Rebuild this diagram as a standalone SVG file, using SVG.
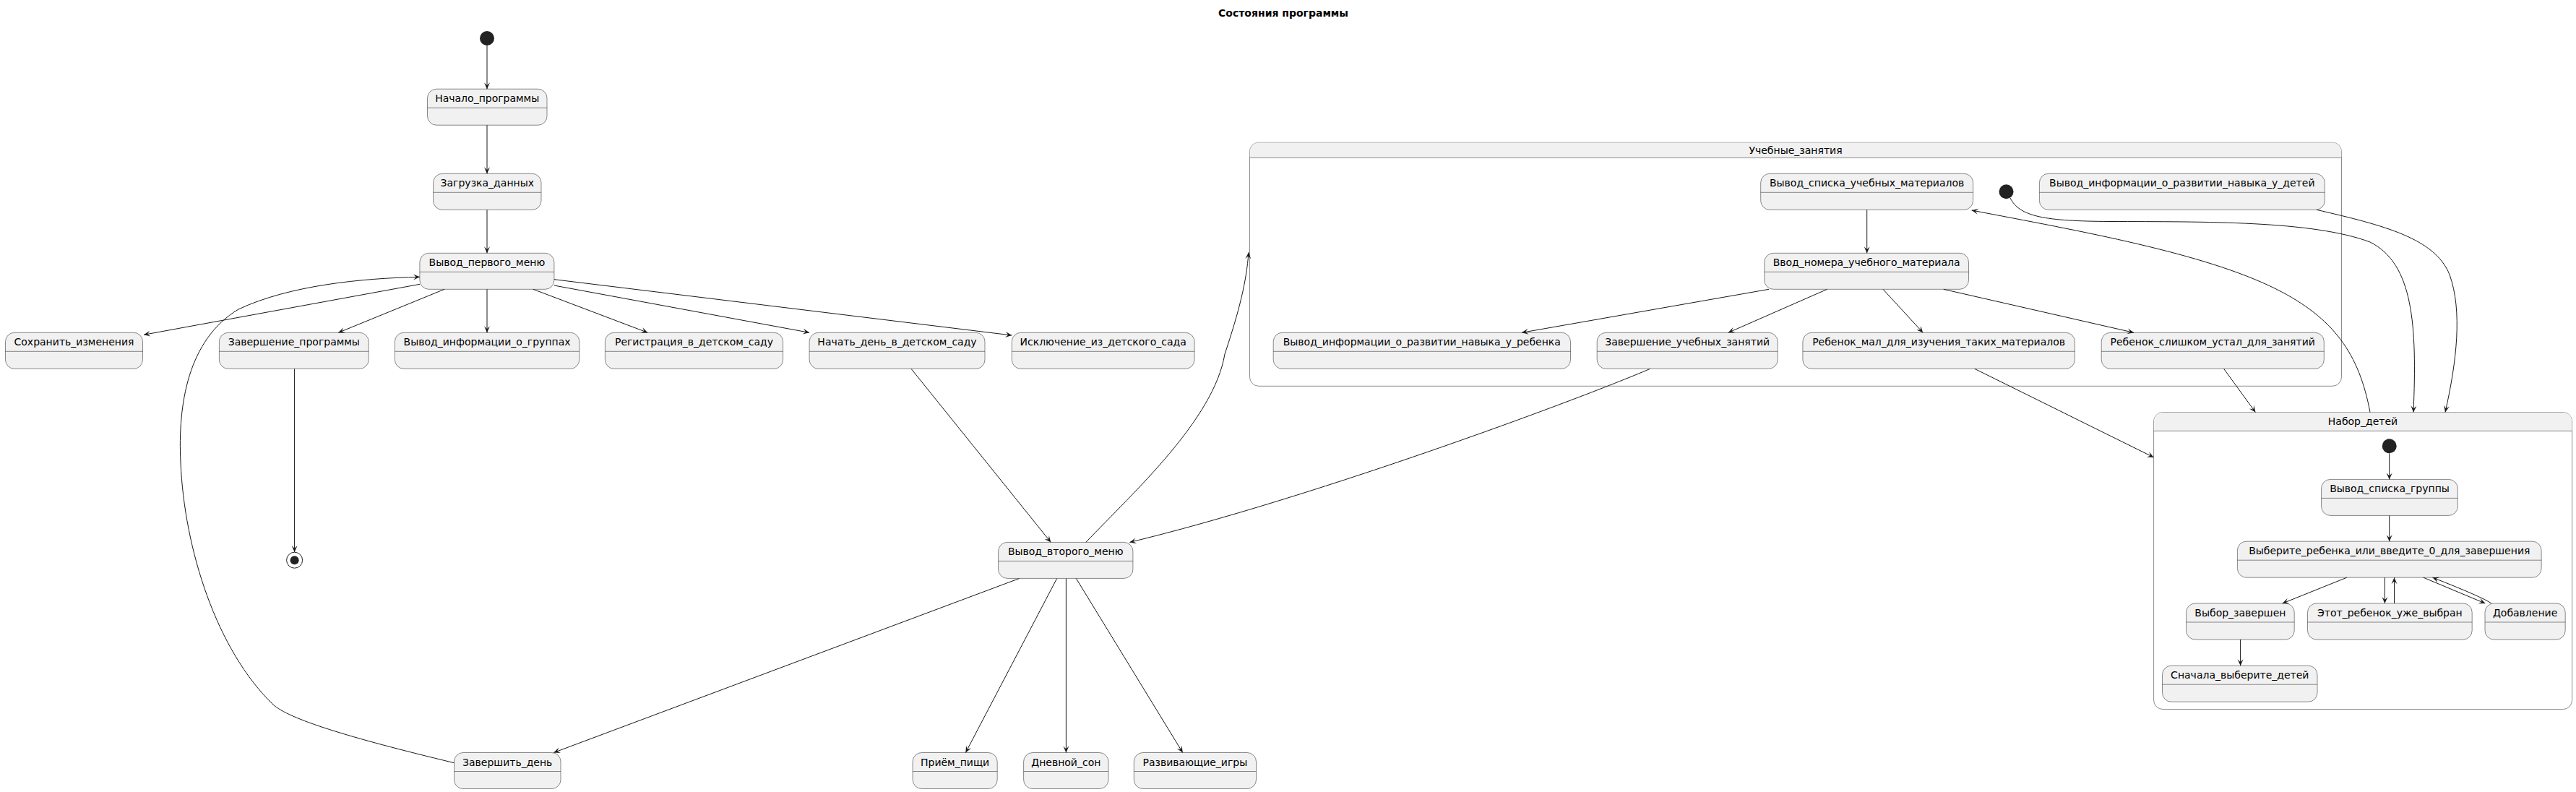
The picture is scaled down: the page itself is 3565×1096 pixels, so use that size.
<svg xmlns="http://www.w3.org/2000/svg" width="3565" height="1096" viewBox="0 0 3565 1096">
<style>
.s{fill:#F1F1F1;stroke:#181818;stroke-width:0.5}
.cb{fill:#FFFFFF;stroke:#181818;stroke-width:0.5}
.ch{fill:#F1F1F1;stroke:none}
.hl{stroke:#181818;stroke-width:0.5}
.t{font-family:"DejaVu Sans",sans-serif;font-size:14px;fill:#000000;text-anchor:middle}
.title{font-family:"DejaVu Sans",sans-serif;font-size:14px;font-weight:bold;fill:#000000;text-anchor:middle}
.c{fill:none;stroke:#181818;stroke-width:1;marker-end:url(#ah)}
.ini{fill:#222222}
</style>
<defs>
<marker id="ah" markerUnits="userSpaceOnUse" viewBox="-10 -5 11 10" markerWidth="11" markerHeight="10" refX="0" refY="0" orient="auto" overflow="visible">
<path d="M0,0 L-9,-4 L-5,0 L-9,4 Z" fill="#181818"/>
</marker>
</defs>
<rect width="3565" height="1096" fill="#FFFFFF"/>
<text class="title" x="1776" y="22.7">Состояния программы</text>

<g id="container-uchebnye">
<rect class="cb" x="1729.5" y="197.3" width="1511" height="337" rx="12.5"/>
<path class="ch" d="M1729.75,218.3 L1729.75,209.8 A12.25,12.25 0 0 1 1742,197.55 L3228,197.55 A12.25,12.25 0 0 1 3240.25,209.8 L3240.25,218.3 Z"/>
<line class="hl" x1="1729.5" y1="218.3" x2="3240.5" y2="218.3"/>
<text class="t" x="2485" y="213">Учебные_занятия</text>
</g>
<g id="container-nabor">
<rect class="cb" x="2980.6" y="570.5" width="579" height="411" rx="12.5"/>
<path class="ch" d="M2980.85,596.4 L2980.85,583 A12.25,12.25 0 0 1 2993.1,570.75 L3547.1,570.75 A12.25,12.25 0 0 1 3559.35,583 L3559.35,596.4 Z"/>
<line class="hl" x1="2980.6" y1="596.4" x2="3559.6" y2="596.4"/>
<text class="t" x="3270" y="588">Набор_детей</text>
</g>

<g id="start"><circle class="ini" cx="674" cy="53" r="10"/></g>
<g id="end"><circle cx="407.6" cy="775.2" r="11" fill="none" stroke="#222222" stroke-width="1"/><circle class="ini" cx="407.6" cy="775.2" r="6"/></g>

<g id="n-nachalo"><rect class="s" x="591.5" y="123.2" width="165.5" height="50" rx="12.5"/><line class="hl" x1="591.5" y1="149.2" x2="757" y2="149.2"/><text class="t" x="674.2" y="141.2">Начало_программы</text></g>
<g id="n-zagruzka"><rect class="s" x="599.6" y="240.3" width="149.4" height="50" rx="12.5"/><line class="hl" x1="599.6" y1="266.3" x2="749" y2="266.3"/><text class="t" x="674.3" y="258.3">Загрузка_данных</text></g>
<g id="n-menu1"><rect class="s" x="580.9" y="350.3" width="186" height="50" rx="12.5"/><line class="hl" x1="580.9" y1="376.3" x2="766.9" y2="376.3"/><text class="t" x="673.9" y="368.3">Вывод_первого_меню</text></g>
<g id="n-sohranit"><rect class="s" x="7.5" y="460.3" width="190" height="50" rx="12.5"/><line class="hl" x1="7.5" y1="486.3" x2="197.5" y2="486.3"/><text class="t" x="102.5" y="478.3">Сохранить_изменения</text></g>
<g id="n-zavprog"><rect class="s" x="303.4" y="460.3" width="206.8" height="50" rx="12.5"/><line class="hl" x1="303.4" y1="486.3" x2="510.2" y2="486.3"/><text class="t" x="406.8" y="478.3">Завершение_программы</text></g>
<g id="n-infogr"><rect class="s" x="546.4" y="460.3" width="255.4" height="50" rx="12.5"/><line class="hl" x1="546.4" y1="486.3" x2="801.8" y2="486.3"/><text class="t" x="674.1" y="478.3">Вывод_информации_о_группах</text></g>
<g id="n-registr"><rect class="s" x="837.4" y="460.3" width="246.2" height="50" rx="12.5"/><line class="hl" x1="837.4" y1="486.3" x2="1083.6" y2="486.3"/><text class="t" x="960.5" y="478.3">Регистрация_в_детском_саду</text></g>
<g id="n-nachden"><rect class="s" x="1120.1" y="460.3" width="242.9" height="50" rx="12.5"/><line class="hl" x1="1120.1" y1="486.3" x2="1363" y2="486.3"/><text class="t" x="1241.5" y="478.3">Начать_день_в_детском_саду</text></g>
<g id="n-iskl"><rect class="s" x="1400.3" y="460.3" width="252.8" height="50" rx="12.5"/><line class="hl" x1="1400.3" y1="486.3" x2="1653.1" y2="486.3"/><text class="t" x="1526.7" y="478.3">Исключение_из_детского_сада</text></g>
<g id="n-menu2"><rect class="s" x="1381.6" y="750.4" width="186.3" height="50" rx="12.5"/><line class="hl" x1="1381.6" y1="776.4" x2="1567.9" y2="776.4"/><text class="t" x="1474.7" y="768.4">Вывод_второго_меню</text></g>
<g id="n-zavden"><rect class="s" x="628.5" y="1041.5" width="147.5" height="50" rx="12.5"/><line class="hl" x1="628.5" y1="1067.5" x2="776" y2="1067.5"/><text class="t" x="702.2" y="1059.5">Завершить_день</text></g>
<g id="n-priem"><rect class="s" x="1263.1" y="1041.5" width="117.1" height="50" rx="12.5"/><line class="hl" x1="1263.1" y1="1067.5" x2="1380.2" y2="1067.5"/><text class="t" x="1321.6" y="1059.5">Приём_пищи</text></g>
<g id="n-son"><rect class="s" x="1416.6" y="1041.5" width="117.4" height="50" rx="12.5"/><line class="hl" x1="1416.6" y1="1067.5" x2="1534" y2="1067.5"/><text class="t" x="1475.3" y="1059.5">Дневной_сон</text></g>
<g id="n-igry"><rect class="s" x="1569.3" y="1041.5" width="169.2" height="50" rx="12.5"/><line class="hl" x1="1569.3" y1="1067.5" x2="1738.5" y2="1067.5"/><text class="t" x="1653.9" y="1059.5">Развивающие_игры</text></g>

<g id="u-start"><circle class="ini" cx="2776.5" cy="265.3" r="10"/></g>
<g id="u-spisok"><rect class="s" x="2436.7" y="240.3" width="293.9" height="50" rx="12.5"/><line class="hl" x1="2436.7" y1="266.3" x2="2730.6" y2="266.3"/><text class="t" x="2583.6" y="258.3">Вывод_списка_учебных_материалов</text></g>
<g id="u-infodet"><rect class="s" x="2822.4" y="240.3" width="394.9" height="50" rx="12.5"/><line class="hl" x1="2822.4" y1="266.3" x2="3217.3" y2="266.3"/><text class="t" x="3019.8" y="258.3">Вывод_информации_о_развитии_навыка_у_детей</text></g>
<g id="u-vvod"><rect class="s" x="2441.8" y="350.3" width="282.7" height="50" rx="12.5"/><line class="hl" x1="2441.8" y1="376.3" x2="2724.5" y2="376.3"/><text class="t" x="2583.1" y="368.3">Ввод_номера_учебного_материала</text></g>
<g id="u-inforeb"><rect class="s" x="1762.2" y="460.3" width="411.3" height="50" rx="12.5"/><line class="hl" x1="1762.2" y1="486.3" x2="2173.5" y2="486.3"/><text class="t" x="1967.8" y="478.3">Вывод_информации_о_развитии_навыка_у_ребенка</text></g>
<g id="u-zaversh"><rect class="s" x="2210.2" y="460.3" width="250" height="50" rx="12.5"/><line class="hl" x1="2210.2" y1="486.3" x2="2460.2" y2="486.3"/><text class="t" x="2335.2" y="478.3">Завершение_учебных_занятий</text></g>
<g id="u-mal"><rect class="s" x="2494.9" y="460.3" width="376.5" height="50" rx="12.5"/><line class="hl" x1="2494.9" y1="486.3" x2="2871.4" y2="486.3"/><text class="t" x="2683.1" y="478.3">Ребенок_мал_для_изучения_таких_материалов</text></g>
<g id="u-ustal"><rect class="s" x="2908.2" y="460.3" width="308.1" height="50" rx="12.5"/><line class="hl" x1="2908.2" y1="486.3" x2="3216.3" y2="486.3"/><text class="t" x="3062.2" y="478.3">Ребенок_слишком_устал_для_занятий</text></g>

<g id="d-start"><circle class="ini" cx="3306.7" cy="617.3" r="10"/></g>
<g id="d-spisok"><rect class="s" x="3212.6" y="663.4" width="188.7" height="50" rx="12.5"/><line class="hl" x1="3212.6" y1="689.4" x2="3401.3" y2="689.4"/><text class="t" x="3307" y="681.4">Вывод_списка_группы</text></g>
<g id="d-vyberite"><rect class="s" x="3096.4" y="749.2" width="420.7" height="50" rx="12.5"/><line class="hl" x1="3096.4" y1="775.2" x2="3517.1" y2="775.2"/><text class="t" x="3306.8" y="767.2">Выберите_ребенка_или_введите_0_для_завершения</text></g>
<g id="d-vybor"><rect class="s" x="3025.5" y="835" width="149.7" height="50" rx="12.5"/><line class="hl" x1="3025.5" y1="861" x2="3175.2" y2="861"/><text class="t" x="3100.4" y="853">Выбор_завершен</text></g>
<g id="d-etot"><rect class="s" x="3193.5" y="835" width="227.7" height="50" rx="12.5"/><line class="hl" x1="3193.5" y1="861" x2="3421.2" y2="861"/><text class="t" x="3307.4" y="853">Этот_ребенок_уже_выбран</text></g>
<g id="d-dobav"><rect class="s" x="3439" y="835" width="111.2" height="50" rx="12.5"/><line class="hl" x1="3439" y1="861" x2="3550.2" y2="861"/><text class="t" x="3494.6" y="853">Добавление</text></g>
<g id="d-snachala"><rect class="s" x="2992.5" y="921.2" width="214.5" height="50" rx="12.5"/><line class="hl" x1="2992.5" y1="947.2" x2="3207" y2="947.2"/><text class="t" x="3099.8" y="939.2">Сначала_выберите_детей</text></g>

<g id="connectors">
<path class="c" d="M674,63 L674,123.2"/>
<path class="c" d="M674,173.2 L674,240.3"/>
<path class="c" d="M674,290.3 L674,350.3"/>
<path class="c" d="M581,393.3 L199,463.3"/>
<path class="c" d="M615,400.3 L468.3,460.3"/>
<path class="c" d="M674,400.3 L674,460.3"/>
<path class="c" d="M737.9,400.3 L896.3,460.3"/>
<path class="c" d="M766.9,395 L1120.1,460.3"/>
<path class="c" d="M766.9,386.7 L1400.3,464"/>
<path class="c" d="M407.6,510.3 L407.6,764"/>
<path class="c" d="M628.5,1055.7 C480,1020 400,995 378,975 C300,900 255,760 250,640 C246,560 260,470 330,428 C400,395 500,385 581,383.3"/>
<path class="c" d="M1261,510.3 L1454.3,750.4"/>
<path class="c" d="M1502.8,750.4 C1570,680 1680,580 1695,490 C1715,430 1725,390 1728,349.3"/>
<path class="c" d="M1410.3,800.6 L766.3,1041.5"/>
<path class="c" d="M1462.6,800.6 L1336.4,1041.5"/>
<path class="c" d="M1475.4,800.6 L1475.4,1041.5"/>
<path class="c" d="M1489.4,800.6 L1636.8,1041.5"/>
<path class="c" d="M2583.7,290.3 L2583.7,350.3"/>
<path class="c" d="M2448,400.3 L2106.1,460.3"/>
<path class="c" d="M2528.6,400.3 L2391.8,460.3"/>
<path class="c" d="M2606,400.3 L2661.2,460.3"/>
<path class="c" d="M2689.8,400.3 L2953,460.3"/>
<path class="c" d="M2283.7,510.3 C2183.7,553.3 1813.4,690.4 1563.4,750.4"/>
<path class="c" d="M2732.7,510.3 L2980.6,632.9"/>
<path class="c" d="M3077.6,510.3 L3121.4,570.5"/>
<path class="c" d="M2782,274 C2795,300 2830,306 2920,306.5 C3050,307 3200,305 3280,335 C3340,365 3345,450 3340,570.5"/>
<path class="c" d="M3206,290.3 C3300,312 3370,330 3390,380 C3408,430 3400,500 3384,570.5"/>
<path class="c" d="M3280,570.5 C3265,490 3230,440 3150,400 C3050,350 2880,320 2728.6,291"/>
<path class="c" d="M3306.7,627.3 L3306.7,663.4"/>
<path class="c" d="M3306.7,713.4 L3306.7,749.2"/>
<path class="c" d="M3247.8,799.2 L3158.7,835"/>
<path class="c" d="M3300.4,799.2 L3300.4,835"/>
<path class="c" d="M3313.5,835 L3313.5,799.2"/>
<path class="c" d="M3353.8,799.2 L3439.4,835"/>
<path class="c" d="M3448,835 Q3435,826 3366.5,799.2"/>
<path class="c" d="M3100.6,885 L3100.6,921.2"/>
</g>
</svg>
